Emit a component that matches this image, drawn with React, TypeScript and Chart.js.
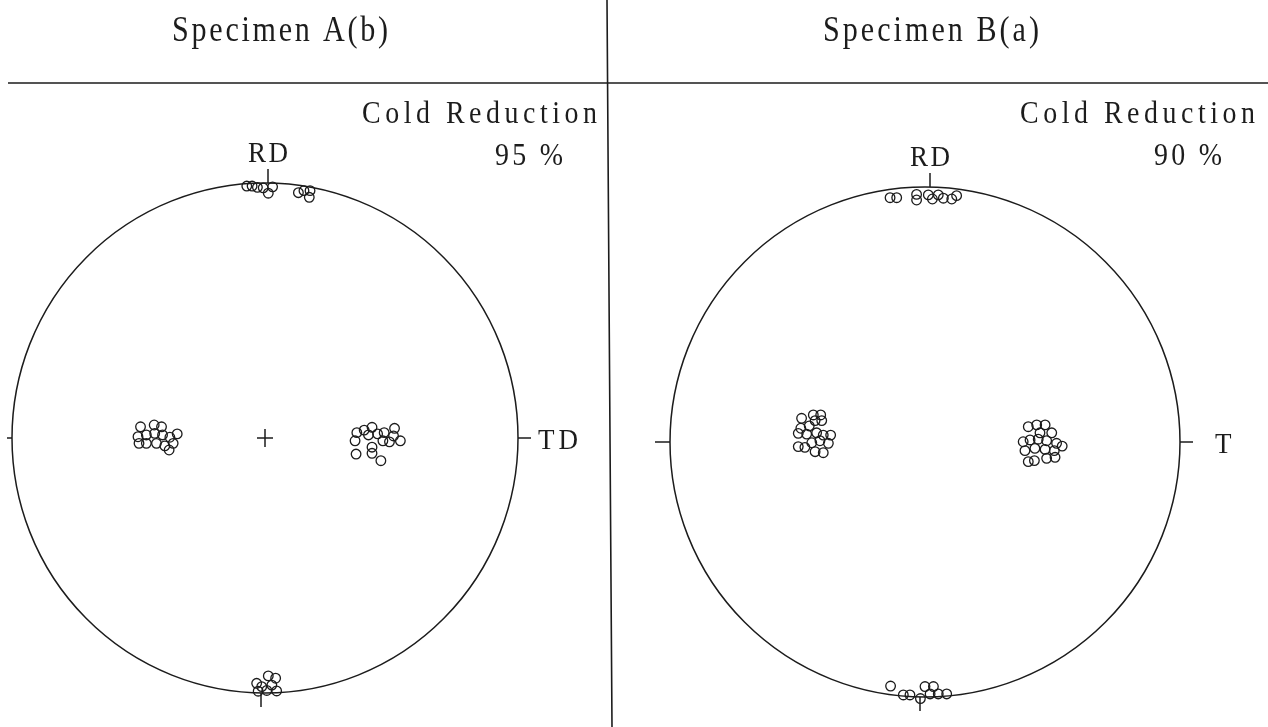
import React, { useEffect, useRef } from "react";
import { Chart, registerables } from "chart.js";

Chart.register(...registerables);

type Pole = { x: number; y: number };

// Pole positions in projection units (radius of the net = 100).
// +y points towards RD, +x towards TD.
const poleA_rd: Pole[] = [
  { x: -7.2, y: 98.8 }, { x: -5.1, y: 98.8 }, { x: -3.0, y: 98.3 },
  { x: -0.7, y: 98.1 }, { x: 3.0, y: 98.5 }, { x: 1.3, y: 96.0 },
  { x: 13.2, y: 96.2 }, { x: 15.4, y: 97.0 }, { x: 17.8, y: 97.0 },
  { x: 17.5, y: 94.4 },
];
const poleA_left: Pole[] = [
  { x: -49.2, y: 4.4 }, { x: -43.8, y: 5.1 }, { x: -40.9, y: 4.4 },
  { x: -50.2, y: 0.5 }, { x: -46.9, y: 1.2 }, { x: -43.6, y: 1.8 },
  { x: -40.5, y: 1.2 }, { x: -37.6, y: 0.3 }, { x: -34.7, y: 1.6 },
  { x: -49.8, y: -2.1 }, { x: -46.9, y: -2.1 }, { x: -42.9, y: -2.1 },
  { x: -39.6, y: -3.1 }, { x: -37.9, y: -4.7 }, { x: -36.3, y: -2.1 },
];
const poleA_right: Pole[] = [
  { x: 36.3, y: 2.1 }, { x: 39.2, y: 3.1 }, { x: 42.3, y: 4.2 },
  { x: 40.9, y: 1.2 }, { x: 44.5, y: 1.6 }, { x: 47.1, y: 2.1 },
  { x: 51.2, y: 3.8 }, { x: 50.8, y: 0.8 }, { x: 53.5, y: -1.1 },
  { x: 49.2, y: -1.5 }, { x: 46.6, y: -1.1 }, { x: 35.6, y: -1.1 },
  { x: 42.3, y: -3.6 }, { x: 36.0, y: -6.3 }, { x: 42.3, y: -6.0 },
  { x: 45.8, y: -8.9 },
];
const poleA_bottom: Pole[] = [
  { x: -3.3, y: -96.2 }, { x: 1.3, y: -93.3 }, { x: 4.2, y: -94.2 },
  { x: -1.3, y: -97.5 }, { x: 2.7, y: -96.9 }, { x: -2.7, y: -99.3 },
  { x: 0.7, y: -99.0 }, { x: 4.6, y: -99.2 },
];

const poleB_rd: Pole[] = [
  { x: -13.7, y: 95.8 }, { x: -11.1, y: 95.8 }, { x: -3.3, y: 97.1 },
  { x: -3.3, y: 94.9 }, { x: 1.3, y: 96.9 }, { x: 2.9, y: 95.3 },
  { x: 5.2, y: 96.9 }, { x: 7.2, y: 95.6 }, { x: 10.5, y: 95.3 },
  { x: 12.4, y: 96.6 },
];
const poleB_left: Pole[] = [
  { x: -48.4, y: 9.3 }, { x: -43.8, y: 10.6 }, { x: -40.9, y: 10.6 },
  { x: -43.1, y: 8.4 }, { x: -40.5, y: 8.4 }, { x: -48.7, y: 5.4 },
  { x: -45.4, y: 6.3 }, { x: -49.7, y: 3.4 }, { x: -46.4, y: 3.1 },
  { x: -42.5, y: 3.6 }, { x: -39.9, y: 2.7 }, { x: -37.0, y: 2.7 },
  { x: -49.7, y: -1.8 }, { x: -47.1, y: -2.1 }, { x: -44.4, y: -0.3 },
  { x: -41.2, y: 0.5 }, { x: -37.9, y: -0.5 }, { x: -43.1, y: -3.8 },
  { x: -39.9, y: -4.2 },
];
const poleB_right: Pole[] = [
  { x: 40.5, y: 6.0 }, { x: 43.8, y: 6.7 }, { x: 47.1, y: 6.7 },
  { x: 45.1, y: 3.6 }, { x: 49.7, y: 3.6 }, { x: 38.5, y: 0.1 },
  { x: 41.2, y: 0.8 }, { x: 44.4, y: 1.1 }, { x: 47.7, y: 0.5 },
  { x: 51.6, y: -0.5 }, { x: 53.8, y: -1.6 }, { x: 39.2, y: -3.4 },
  { x: 43.1, y: -2.5 }, { x: 47.1, y: -2.9 }, { x: 50.7, y: -3.4 },
  { x: 40.5, y: -7.7 }, { x: 42.9, y: -7.3 }, { x: 47.7, y: -6.4 },
  { x: 51.0, y: -6.0 },
];
const poleB_bottom: Pole[] = [
  { x: -13.5, y: -95.7 }, { x: -8.5, y: -99.2 }, { x: -5.9, y: -99.2 },
  { x: -1.8, y: -100.6 }, { x: 0.0, y: -95.9 }, { x: 3.3, y: -95.9 },
  { x: 2.0, y: -98.8 }, { x: 5.2, y: -98.8 }, { x: 8.5, y: -98.8 },
];

const specimenTitles = ["Specimen A(b)", "Specimen B(a)"];
const coldReduction = [95, 90];
const rdLabel = "RD";
const tdLabels = ["TD", "T"];

const INK = "#1c1c1c";
const FONT = '"Liberation Serif", "DejaVu Serif", serif';
const W = 1268;
const H = 727;

// Draws slightly narrowed glyphs spread out so the text occupies a given width.
function spacedText(
  ctx: CanvasRenderingContext2D,
  text: string,
  left: number,
  width: number,
  baseline: number,
  size: number,
  squeeze: number
) {
  ctx.font = `${size}px ${FONT}`;
  ctx.textAlign = "left";
  ctx.textBaseline = "alphabetic";
  const chars = Array.from(text);
  const widths = chars.map((c) => ctx.measureText(c).width * squeeze);
  const total = widths.reduce((a, b) => a + b, 0);
  const gap = chars.length > 1 ? (width - total) / (chars.length - 1) : 0;
  let x = left;
  chars.forEach((c, i) => {
    ctx.save();
    ctx.translate(x, baseline);
    ctx.scale(squeeze, 1);
    ctx.fillText(c, 0, 0);
    ctx.restore();
    x += widths[i] + gap;
  });
}

type FigureOpts = {
  index: number;
  centerCross: boolean;
  frame: boolean;
  rdShift: number;
  bottomShift: number;
};

function poleFigurePlugin(o: FigureOpts) {
  return {
    id: "poleFigure" + o.index,
    beforeDatasetsDraw(chart: any) {
      const ctx: CanvasRenderingContext2D = chart.ctx;
      const xs = chart.scales.x;
      const ys = chart.scales.y;
      const cx = xs.getPixelForValue(0);
      const cy = ys.getPixelForValue(0);
      const rx = xs.getPixelForValue(100) - cx;
      const ry = cy - ys.getPixelForValue(100);
      ctx.save();
      ctx.strokeStyle = INK;
      ctx.fillStyle = INK;

      // page frame: header rule and the divider between the two figures
      if (o.frame) {
        ctx.lineWidth = 1.6;
        ctx.beginPath();
        ctx.moveTo(8, 83);
        ctx.lineTo(W, 83);
        ctx.moveTo(607, 0);
        ctx.lineTo(612, H);
        ctx.stroke();
      }

      // projection circle
      ctx.lineWidth = 1.5;
      ctx.beginPath();
      ctx.ellipse(cx, cy, rx, ry, 0, 0, Math.PI * 2);
      ctx.stroke();

      // reference ticks at RD, TD and the opposite ends
      const top = cy - ry;
      const bottom = cy + ry;
      const left = cx - rx;
      const right = cx + rx;
      ctx.lineWidth = 1.5;
      ctx.beginPath();
      ctx.moveTo(cx + o.rdShift, top);
      ctx.lineTo(cx + o.rdShift, top - 14);
      ctx.moveTo(cx + o.bottomShift, bottom);
      ctx.lineTo(cx + o.bottomShift, bottom + 14);
      ctx.moveTo(left, cy);
      ctx.lineTo(left - 5 - o.index * 10, cy);
      ctx.moveTo(right, cy);
      ctx.lineTo(right + 13, cy);
      if (o.centerCross) {
        ctx.moveTo(cx - 8, cy);
        ctx.lineTo(cx + 8, cy);
        ctx.moveTo(cx, cy - 9);
        ctx.lineTo(cx, cy + 9);
      }
      ctx.stroke();

      // header and labels
      const titleCenter = cx + (o.index === 0 ? 15 : 6);
      spacedText(ctx, specimenTitles[o.index], titleCenter - 108, 216, 41, 35, 0.86);
      spacedText(ctx, "Cold Reduction", right + 79 - 235 - o.index * 4, 235, 123, 31, 0.9);
      spacedText(ctx, `${coldReduction[o.index]} %`, right + 45 - 68 - o.index * 3, 68, 165, 31, 0.9);
      spacedText(ctx, rdLabel, cx + o.rdShift - 20, 40, top - 21, 30, 0.9);
      const td = tdLabels[o.index];
      spacedText(ctx, td, right + 20 + o.index * 15, td.length > 1 ? 40 : 0, cy + 11, 30, 0.9);
      ctx.restore();
    },
  };
}

function makeConfig(
  sets: Pole[][],
  padding: { left: number; right: number; top: number; bottom: number },
  o: FigureOpts
): any {
  return {
    type: "scatter",
    data: {
      datasets: sets.map((d) => ({
        data: d,
        pointStyle: "circle",
        pointRadius: 4.8,
        pointBorderWidth: 1.3,
        pointBorderColor: INK,
        pointBackgroundColor: "rgba(255,255,255,0)",
        clip: false,
      })),
    },
    options: {
      responsive: false,
      animation: false,
      events: [],
      layout: { padding },
      plugins: {
        legend: { display: false },
        title: { display: false },
        tooltip: { enabled: false },
      },
      scales: {
        x: { type: "linear", min: -100, max: 100, display: false },
        y: { type: "linear", min: -100, max: 100, display: false },
      },
    },
    plugins: [poleFigurePlugin(o)],
  };
}

export default function App() {
  const refA = useRef<HTMLCanvasElement | null>(null);
  const refB = useRef<HTMLCanvasElement | null>(null);

  useEffect(() => {
    if (!refA.current || !refB.current) return;
    const a = new Chart(
      refA.current,
      makeConfig(
        [poleA_rd, poleA_left, poleA_right, poleA_bottom],
        { left: 12, right: W - 518, top: 183, bottom: H - 693 },
        { index: 0, centerCross: true, frame: true, rdShift: 3, bottomShift: -4 }
      )
    );
    const b = new Chart(
      refB.current,
      makeConfig(
        [poleB_rd, poleB_left, poleB_right, poleB_bottom],
        { left: 670, right: W - 1180, top: 187, bottom: H - 697 },
        { index: 1, centerCross: false, frame: false, rdShift: 5, bottomShift: -5 }
      )
    );
    return () => {
      a.destroy();
      b.destroy();
    };
  }, []);

  const canvasStyle: React.CSSProperties = {
    position: "absolute",
    left: 0,
    top: 0,
    width: W,
    height: H,
  };

  return (
    <div
      style={{
        position: "absolute",
        left: 0,
        top: 0,
        width: W,
        height: H,
        background: "#fff",
        overflow: "hidden",
      }}
    >
      <canvas ref={refA} width={W} height={H} style={canvasStyle} />
      <canvas ref={refB} width={W} height={H} style={canvasStyle} />
    </div>
  );
}
